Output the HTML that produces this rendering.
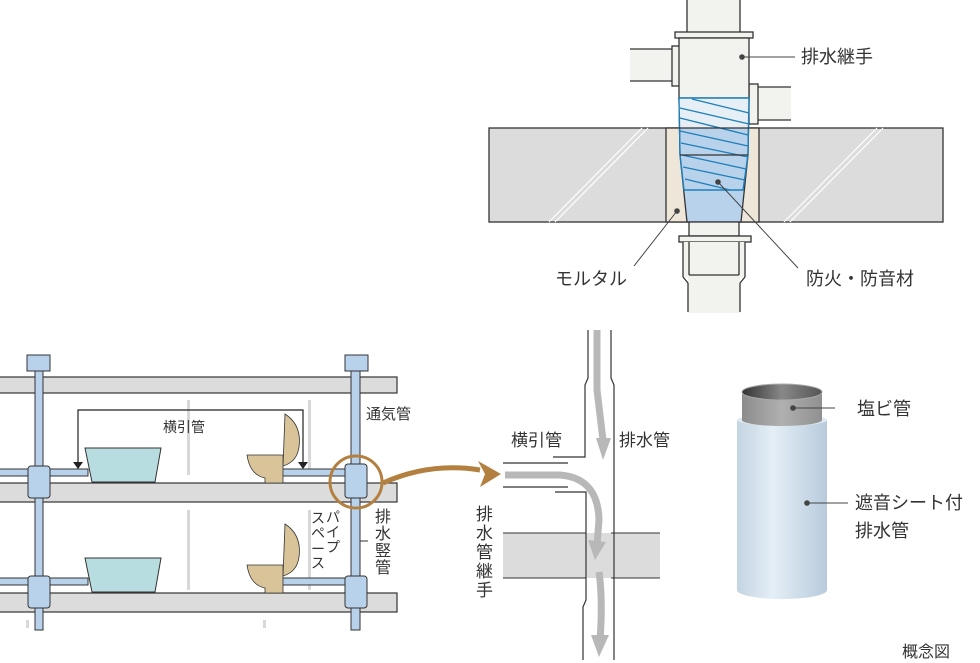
<!DOCTYPE html>
<html><head><meta charset="utf-8"><style>
html,body{margin:0;padding:0;background:#fff}
svg{display:block}
text{font-family:"Liberation Sans","Noto Sans CJK JP",sans-serif;fill:#333}
</style></head><body>
<svg width="980" height="663" viewBox="0 0 980 663" xmlns="http://www.w3.org/2000/svg">
<defs>
<linearGradient id="cyl" x1="0" x2="1"><stop offset="0" stop-color="#c4d4e2"/><stop offset="0.4" stop-color="#e4eef6"/><stop offset="1" stop-color="#b8cbdc"/></linearGradient>
<linearGradient id="cap" x1="0" x2="1"><stop offset="0" stop-color="#8c8c8c"/><stop offset="0.5" stop-color="#b0b0b0"/><stop offset="1" stop-color="#909090"/></linearGradient>
<linearGradient id="inner" x1="0" x2="1"><stop offset="0" stop-color="#333"/><stop offset="0.5" stop-color="#888"/><stop offset="1" stop-color="#555"/></linearGradient>
</defs>

<g stroke="#333" stroke-width="1.3">
<rect x="489" y="128" width="454" height="94" fill="#dcdcdc"/>
<rect x="666" y="128" width="93" height="94" fill="#efe6da"/>
<line x1="549" y1="222" x2="642" y2="128" stroke="#fff" stroke-width="1.2"/>
<line x1="555" y1="222" x2="648" y2="128" stroke="#fff" stroke-width="1.2"/>
<line x1="784" y1="222" x2="877" y2="128" stroke="#fff" stroke-width="1.2"/>
<line x1="790" y1="222" x2="883" y2="128" stroke="#fff" stroke-width="1.2"/>
<rect x="687" y="-2" width="53" height="36" fill="#f2f2ee"/>
<rect x="675" y="32" width="78" height="6" fill="#f2f2ee"/>
<rect x="630" y="49" width="43" height="32" fill="#f2f2ee" stroke="none"/>
<line x1="630" y1="49" x2="673" y2="49"/><line x1="630" y1="81" x2="673" y2="81"/>
<rect x="672" y="46" width="8" height="40" fill="#f2f2ee"/>
<rect x="757" y="87" width="34" height="33" fill="#f2f2ee" stroke="none"/>
<line x1="757" y1="87" x2="791" y2="87"/><line x1="757" y1="120" x2="791" y2="120"/>
<rect x="749" y="84" width="9" height="40" fill="#f2f2ee"/>
<rect x="679" y="38" width="70" height="62" fill="#f2f2ee"/>
<polygon points="679,98 749,98 748,155 741,222 687,222 680,155" fill="#b8d2ec"/>
<polygon points="679,98 749,98 749,128 679,128" fill="#e6eef6" stroke="none"/>
<g stroke="#1e7fb8" stroke-width="1.4" fill="none">
<polygon points="679,98 749,98 748,155 743,190 684,190 680,155"/>
<line x1="692" y1="99" x2="749" y2="113"/>
<line x1="680" y1="108" x2="749" y2="124"/>
<line x1="680" y1="118" x2="748" y2="135"/>
<line x1="680" y1="131" x2="748" y2="146"/>
<line x1="681" y1="143" x2="748" y2="157"/>
<line x1="682" y1="155" x2="746" y2="169"/>
<line x1="683" y1="167" x2="745" y2="180"/>
<line x1="685" y1="179" x2="730" y2="190"/>
</g>
<line x1="679" y1="128" x2="749" y2="128"/>
<line x1="680" y1="155" x2="748" y2="155"/>
<rect x="689" y="222" width="50" height="14" fill="#f2f2ee"/>
<rect x="679" y="236" width="72" height="6" fill="#f2f2ee"/>
<rect x="683" y="242" width="62" height="35" fill="#f2f2ee" stroke="none"/>
<rect x="688" y="277" width="52" height="36" fill="#f2f2ee" stroke="none"/>
<line x1="688" y1="283" x2="688" y2="312"/><line x1="740" y1="283" x2="740" y2="312"/>
<line x1="683" y1="242" x2="683" y2="277"/><line x1="745" y1="242" x2="745" y2="277"/>
<line x1="683" y1="277" x2="688" y2="283"/><line x1="745" y1="277" x2="740" y2="283"/>
<line x1="689" y1="242" x2="689" y2="275"/><line x1="739" y1="242" x2="739" y2="275"/>
<line x1="689" y1="275" x2="739" y2="275"/>
</g>
<g stroke="#444" stroke-width="1" fill="#444">
<circle cx="742" cy="57" r="2.3"/><line x1="742" y1="57" x2="795" y2="57"/>
<circle cx="677" cy="211" r="2.3"/><line x1="677" y1="211" x2="634" y2="266"/>
<circle cx="718" cy="182" r="2.3"/><line x1="718" y1="182" x2="798" y2="268"/>
</g>
<text x="801" y="63" font-size="18">排水継手</text>
<text x="555" y="285" font-size="18">モルタル</text>
<text x="806" y="285" font-size="18">防火・防音材</text>

<g stroke="#333" stroke-width="1.2">
<rect x="-2" y="377" width="399" height="16" fill="#dcdcdc"/>
<rect x="-2" y="483" width="399" height="19" fill="#dcdcdc"/>
<rect x="-2" y="593" width="399" height="19" fill="#dcdcdc"/>
</g>
<g fill="#d8d8d8">
<rect x="187" y="400" width="3" height="75"/><rect x="187" y="510" width="3" height="80"/>
<rect x="308" y="400" width="3" height="75"/><rect x="308" y="510" width="3" height="80"/>
<rect x="26" y="620" width="3" height="8"/><rect x="263" y="620" width="3" height="8"/>
</g>
<g fill="#b8d2ec" stroke="#333" stroke-width="1">
<rect x="-2" y="469" width="90" height="7"/><rect x="280" y="469" width="70" height="7"/>
<rect x="-2" y="578" width="90" height="7"/><rect x="280" y="578" width="70" height="7"/>
<rect x="35" y="370" width="8" height="260"/>
<rect x="351" y="370" width="9" height="260"/>
<rect x="27" y="355" width="23" height="16"/>
<rect x="345" y="355" width="23" height="16"/>
<rect x="28" y="466" width="22" height="32" rx="3"/>
<rect x="28" y="576" width="22" height="32" rx="3"/>
<rect x="345" y="464" width="22" height="34" rx="3"/>
<rect x="345" y="576" width="22" height="32" rx="3"/>
</g>
<g fill="#b8dde0" stroke="#333" stroke-width="1">
<polygon points="85,448 161,448 155,482 92,482"/>
<polygon points="85,558 161,558 155,592 92,592"/>
</g>
<g fill="#d9c49a" stroke="#333" stroke-width="0.8">
<path d="M285,414 Q302,425 299,447 Q297,462 283,466 L283,455 Q270,455 247,455 Q250,475 265,478 L265,483 L283,483 L283,466 Z"/>
<path d="M285,524 Q302,535 299,557 Q297,572 283,576 L283,565 Q270,565 247,565 Q250,585 265,588 L265,593 L283,593 L283,576 Z"/>
</g>
<g stroke="#222" stroke-width="1.2" fill="none">
<polyline points="78,465 78,410 303,410 303,465"/>
</g>
<polygon points="73,462 83,462 78,469" fill="#222"/>
<polygon points="298,462 308,462 303,469" fill="#222"/>
<text x="163" y="432" font-size="14">横引管</text>
<text x="366" y="419" font-size="15">通気管</text>
<circle cx="356" cy="482" r="26" fill="none" stroke="#b3803f" stroke-width="3"/>
<path d="M383,483 Q430,462 480,470" fill="none" stroke="#b3803f" stroke-width="5"/>
<polygon points="478,461 501,474 480,487 485,474" fill="#b3803f"/>
<g font-size="14">
<text x="326" y="522">パ</text><text x="326" y="537">イ</text><text x="326" y="552">プ</text>
<text x="311" y="523">ス</text><text x="311" y="538">ペ</text><text x="311" y="554">ー</text><text x="311" y="568">ス</text>
</g>
<g font-size="16">
<text x="375" y="522">排</text><text x="375" y="539">水</text><text x="375" y="556">竪</text><text x="375" y="573">管</text>
</g>
<line x1="360" y1="541" x2="368" y2="541" stroke="#333"/>

<rect x="503" y="533" width="157" height="45" fill="#dcdcdc"/>
<line x1="503" y1="533" x2="586" y2="533" stroke="#333"/>
<line x1="503" y1="578" x2="586" y2="578" stroke="#333"/>
<line x1="611" y1="533" x2="660" y2="533" stroke="#333"/>
<line x1="611" y1="578" x2="660" y2="578" stroke="#333"/>
<g stroke="#333" stroke-width="1.2" fill="none">
<polyline points="588,330 588,378 585,385 585,457 553,457"/>
<polyline points="611,330 611,378 614,385 614,660"/>
<line x1="503" y1="463" x2="568" y2="463"/><line x1="503" y1="487" x2="568" y2="487"/>
<polyline points="555,492 586,492 586,600 583,607 583,660"/>
</g>
<g fill="none" stroke="#b8b8b8" stroke-width="7">
<path d="M597,330 L597,390 Q600,415 603,440"/>
<path d="M505,475 L560,475 Q598,478 599,520 L597,545"/>
<path d="M599,572 Q603,600 600,640"/>
</g>
<g fill="#b8b8b8">
<polygon points="596,438 611,438 603,460"/>
<polygon points="588,540 606,542 595,560"/>
<polygon points="591,635 609,635 599,657"/>
</g>
<text x="511" y="446" font-size="17">横引管</text>
<text x="619" y="446" font-size="17">排水管</text>
<g font-size="17">
<text x="476" y="520">排</text><text x="476" y="539">水</text><text x="476" y="558">管</text><text x="476" y="577">継</text><text x="476" y="596">手</text>
</g>

<path d="M737,420 L737,590 A45,9 0 0 0 827,590 L827,420 Z" fill="url(#cyl)"/>
<ellipse cx="782" cy="420" rx="45" ry="6" fill="#dfe9f2"/>
<path d="M742,392 L742,420 A40,6 0 0 0 822,420 L822,392 Z" fill="url(#cap)"/>
<ellipse cx="782" cy="392" rx="40" ry="8" fill="url(#inner)" stroke="#aaa" stroke-width="1"/>
<g stroke="#444" fill="#444" stroke-width="1">
<circle cx="793" cy="408" r="2.3"/><line x1="793" y1="408" x2="835" y2="408"/>
<circle cx="807" cy="503" r="2.3"/><line x1="807" y1="503" x2="848" y2="503"/>
</g>
<text x="857" y="415" font-size="18">塩ビ管</text>
<text x="855" y="509" font-size="18">遮音シート付</text>
<text x="855" y="537" font-size="18">排水管</text>
<text x="902" y="657" font-size="16">概念図</text>
</svg>
</body></html>
